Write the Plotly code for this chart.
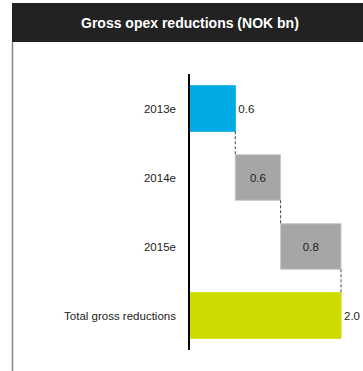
import plotly.graph_objects as go

categories = ["2013e", "2014e", "2015e", "Total gross reductions"]
values = [0.6, 0.6, 0.8, 2.0]
labels = ["0.6", "0.6", "0.8", "2.0"]
is_total = [False, False, False, True]
colors = ["#00AAE4", "#A6A6A6", "#A6A6A6", "#CCDC00"]
text_pos = ["outside", "inside", "inside", "outside"]

bases = []
run = 0.0
for v, t in zip(values, is_total):
    if t:
        bases.append(0.0)
    else:
        bases.append(run)
        run += v

W, H = 363, 371
L, R, T, B = 190, 0, 74, 21
pw, ph = W - L - R, H - T - B
px_per_unit = 75.5
bar_w = 0.66

def px_x(p):
    return (p - L) / pw

def px_y(p):
    return (H - B - p) / ph

fig = go.Figure()
fig.add_trace(go.Bar(
    y=categories, x=values, base=bases, orientation="h",
    marker=dict(color=colors, line=dict(color=["#00AAE4", "#C8C8C8", "#C8C8C8", "#CCDC00"], width=1)),
    width=bar_w,
    text=labels, textposition=text_pos, insidetextanchor="middle",
    textfont=dict(family="Liberation Sans, Arial", size=11.5, color="#222222"),
    cliponaxis=False, hoverinfo="skip",
))

shapes = []
for i in range(len(values) - 1):
    xend = bases[i] + values[i]
    shapes.append(dict(type="line", xref="x", yref="y",
                       x0=xend, x1=xend, y0=i + bar_w / 2, y1=i + 1 - bar_w / 2,
                       line=dict(color="#444444", width=1, dash="3px,2px")))
# header box
shapes.append(dict(type="rect", xref="paper", yref="paper",
                   x0=px_x(12), x1=px_x(W + 2), y0=px_y(42), y1=px_y(3),
                   fillcolor="#222222", line=dict(width=0), layer="above"))
# left border
shapes.append(dict(type="line", xref="paper", yref="paper",
                   x0=px_x(12.5), x1=px_x(12.5), y0=px_y(42), y1=px_y(H + 2),
                   line=dict(color="#888888", width=1.5)))

fig.update_layout(
    width=W, height=H,
    margin=dict(l=L, r=R, t=T, b=B, pad=0),
    paper_bgcolor="white", plot_bgcolor="white",
    showlegend=False,
    shapes=shapes,
    font=dict(family="Liberation Sans, Arial", size=11.5, color="#222222"),
    annotations=[dict(text="<b>Gross opex reductions (NOK bn)</b>", xref="paper", yref="paper",
                      x=px_x(190), y=px_y(23), xanchor="center", yanchor="middle",
                      showarrow=False, font=dict(color="white", size=14,
                                                 family="Liberation Sans, Arial"))],
    xaxis=dict(range=[0, pw / px_per_unit], visible=False, fixedrange=True),
    yaxis=dict(autorange=False, range=[3.5, -0.5], showline=True, linecolor="black",
               linewidth=1.5, showgrid=False, zeroline=False, ticks="",
               ticklabelstandoff=10, tickfont=dict(size=11.5, color="#222222")),
)
fig.write_html("out.html")
